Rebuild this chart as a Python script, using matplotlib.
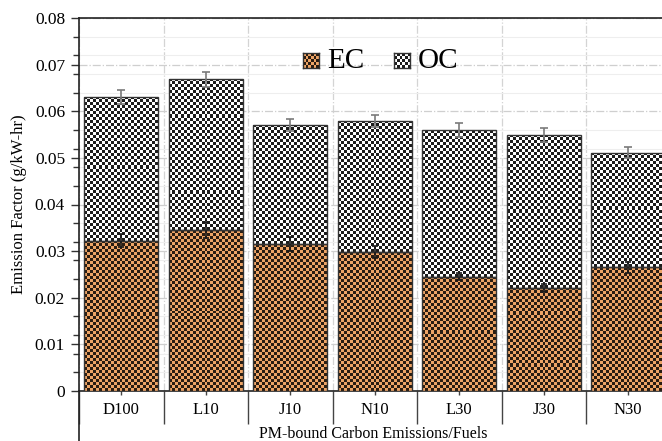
import numpy as np
import matplotlib
matplotlib.use("Agg")
import matplotlib.pyplot as plt
from matplotlib.ticker import MultipleLocator
from matplotlib.lines import Line2D

plt.rcParams['font.family'] = ['Liberation Serif', 'DejaVu Serif']

# data
fuels = ['D100', 'L10', 'J10', 'N10', 'L30', 'J30', 'N30']
ec = [0.0322, 0.0345, 0.0315, 0.0298, 0.0245, 0.0221, 0.0265]
total = [0.0631, 0.0669, 0.0571, 0.0580, 0.0559, 0.0550, 0.0511]
ec_err = [0.0014, 0.0017, 0.0015, 0.0013, 0.0008, 0.0009, 0.0011]
total_err = [0.0015, 0.0016, 0.0013, 0.0013, 0.0015, 0.0015, 0.0012]
oc = [t - e for t, e in zip(total, ec)]

EC_COLS = ('#eda466', '#2a1d12')
OC_COLS = ('#ffffff', '#1c1c1c')


def checker(cols, nx, ny):
    a = (np.add.outer(np.arange(ny), np.arange(nx)) % 2).astype(bool)
    c1 = np.array(matplotlib.colors.to_rgb(cols[0]))
    c2 = np.array(matplotlib.colors.to_rgb(cols[1]))
    return np.where(a[..., None], c2, c1)


W, H = 662, 441
fig = plt.figure(figsize=(W / 100, H / 100), dpi=100)
x0, y_top, y_bot, cat_w = 79, 18, 391, 84.5
n = len(fuels)
ax = fig.add_axes([x0 / W, 1 - y_bot / H, n * cat_w / W, (y_bot - y_top) / H])

x = np.arange(n) + 0.5
bw = 0.875
cell = 3.0  # px per check
px_x = cat_w
px_y = (y_bot - y_top) / 0.08

bars_ec = ax.bar(x, ec, bw, facecolor='none', edgecolor='#333333', lw=1.0, zorder=4)
bars_oc = ax.bar(x, oc, bw, bottom=ec, facecolor='none', edgecolor='#333333', lw=1.0, zorder=4)

for bars, cols in ((bars_ec, EC_COLS), (bars_oc, OC_COLS)):
    for p in bars:
        bx, by = p.get_x(), p.get_y()
        w, h = p.get_width(), p.get_height()
        nx = max(1, int(round(w * px_x / cell)))
        ny = max(1, int(round(h * px_y / cell)))
        im = ax.imshow(checker(cols, nx, ny), extent=(bx, bx + w, by, by + h),
                       origin='lower', aspect='auto', interpolation='nearest', zorder=3)
        im.set_clip_path(p)

ax.errorbar(x, total, yerr=total_err, fmt='none', ecolor='#7a7a7a', elinewidth=1.2,
            capsize=3, capthick=1.2, zorder=5)
ax.errorbar(x, ec, yerr=ec_err, fmt='none', ecolor='#1a1a1a', elinewidth=1.2,
            capsize=2.5, capthick=1.2, zorder=5)

ax.set_xlim(0, n)
ax.set_ylim(0, 0.08)

# y axis
ax.yaxis.set_minor_locator(MultipleLocator(0.004))
ax.set_yticks(np.arange(0, 0.081, 0.01))
ax.set_yticklabels(['0'] + ['%.2f' % v for v in np.arange(0.01, 0.081, 0.01)], fontsize=12.5)
ax.tick_params(axis='y', which='major', direction='out', length=6, width=1, color='#333333', pad=4)
ax.tick_params(axis='y', which='minor', direction='out', length=4, width=1, color='#333333')
ax.grid(axis='y', which='major', color='#cfcfcf', lw=0.9, ls='-.', zorder=0)
ax.grid(axis='y', which='minor', color='#eeeeee', lw=0.8, ls='-', zorder=0)

# x axis: separators as major ticks, labels on minor ticks at centres
ax.set_xticks(np.arange(0, n + 1))
ax.set_xticklabels([])
ax.set_xticks(x, minor=True)
ax.set_xticklabels(fuels, minor=True, fontsize=12)
ax.tick_params(axis='x', which='major', direction='out', length=24, width=1, color='#444444')
ax.tick_params(axis='x', which='minor', direction='out', length=3, width=1, color='#444444', pad=5)
ax.grid(axis='x', which='major', color='#d4d4d4', lw=0.9, ls='-.', zorder=0)

for s in ax.spines.values():
    s.set_color('#222222')
    s.set_linewidth(1.2)

ax.set_xlabel('PM-bound Carbon Emissions/Fuels', fontsize=11.5)
ax.xaxis.set_label_coords((373 - x0) / (n * cat_w), -(426 - y_bot) / (y_bot - y_top))
ax.set_ylabel('Emission Factor (g/kW-hr)', fontsize=12)
ax.yaxis.set_label_coords(-(x0 - 27) / (n * cat_w), 0.5)

# left axis line continues down through the category box
fig.add_artist(Line2D([x0 / W, x0 / W], [0, 1 - y_bot / H], color='#222222', lw=1.2))

# legend drawn by hand (checker swatches)
for lx, cols, label in ((303, EC_COLS, 'EC'), (394, OC_COLS, 'OC')):
    lax = fig.add_axes([lx / W, 1 - 68 / H, 16 / W, 15 / H])
    lax.imshow(checker(cols, 6, 5), aspect='auto', interpolation='nearest')
    lax.set_xticks([])
    lax.set_yticks([])
    for s in lax.spines.values():
        s.set_color('#333333')
        s.set_linewidth(1.0)
    fig.text((lx + 24) / W, 1 - 61 / H, label, fontsize=21, va='center', ha='left')

fig.savefig('out.png', dpi=100)
